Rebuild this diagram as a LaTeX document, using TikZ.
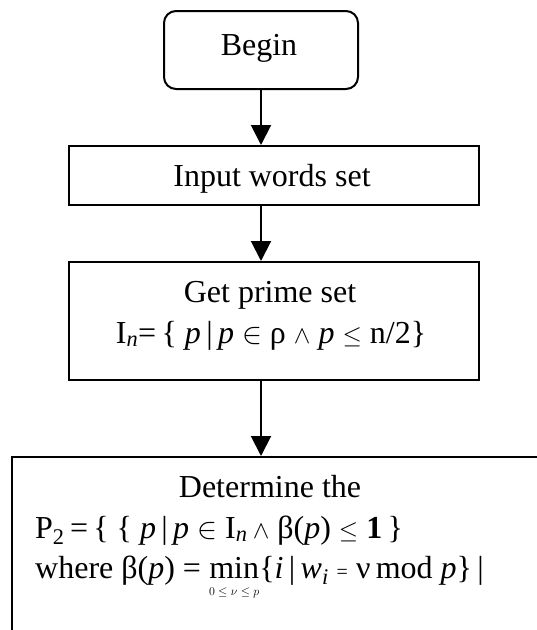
\documentclass[tikz,border=0pt]{standalone}
\usepackage{fontspec}
\setmainfont{Liberation Serif}
\usetikzlibrary{arrows.meta}
\newcommand\minsub[1]{\vtop{\baselineskip=17pt\lineskiplimit=-20pt\halign{\hfil##\hfil\cr min\cr{\fontsize{13}{13}\selectfont #1}\cr}}}
\begin{document}
\begin{tikzpicture}[x=1pt,y=-1pt,
  font=\fontsize{32}{38}\selectfont,
  box/.style={draw, line width=2pt, inner sep=0pt},
  arr/.style={line width=2pt, -{Triangle[width=20pt,length=20pt]}},
  txt/.style={inner sep=0pt, anchor=base}]
\useasboundingbox (0,0) rectangle (537,630);
\clip (0,0) rectangle (537,630);
\node[box, rounded corners=12pt, minimum width=194pt, minimum height=78pt] (begin) at (261,50) {};
\node[txt] (tbegin) at (259,55) {Begin};
\node[box, minimum width=410pt, minimum height=59pt] (input) at (274,175.5) {};
\node[txt] (tinput) at (272,186) {Input words set};
\node[box, minimum width=410pt, minimum height=118pt] (get) at (274,321) {};
\node[txt] (tget1) at (270,302) {Get prime set};
\node[txt] (tget2) at (271,343) {I\textsubscript{\textit{n}}=\,\{~\textit{p}\,|\,\textit{p}~$\mathrel{\scalebox{1.2}{$\in$}}$~ρ~$\wedge$~\textit{p}~$\leq$~n/2\}};
\node[box, minimum width=600pt, minimum height=250pt] (det) at (312,582) {};
\node[txt] (tdet1) at (270,497) {Determine the};
\node[txt, anchor=base west] (tdet2) at (35,538) {P\textsubscript{2}\,=\,\{~\{ \textit{p}\,|\,\textit{p}~$\mathrel{\scalebox{1.2}{$\in$}}$~I\textsubscript{\textit{n}}\,$\wedge$~β(\textit{p})~$\leq$~\textbf{1}\,\}};
\node[txt, anchor=base west] (tdet3) at (35,578) {where β(\textit{p}) = \minsub{$0\le\nu\le p$}\{\textit{i}\,|\,\textit{w}\textsubscript{\textit{i}} {\fontsize{20}{20}\selectfont=} ν\,mod~\textit{p}\}\,|};
\draw[arr] (begin.south) -- (begin.south |- input.north);
\draw[arr] (input.south -| begin.south) -- (begin.south |- get.north);
\draw[arr] (get.south -| begin.south) -- (begin.south |- det.north);
\end{tikzpicture}
\end{document}
